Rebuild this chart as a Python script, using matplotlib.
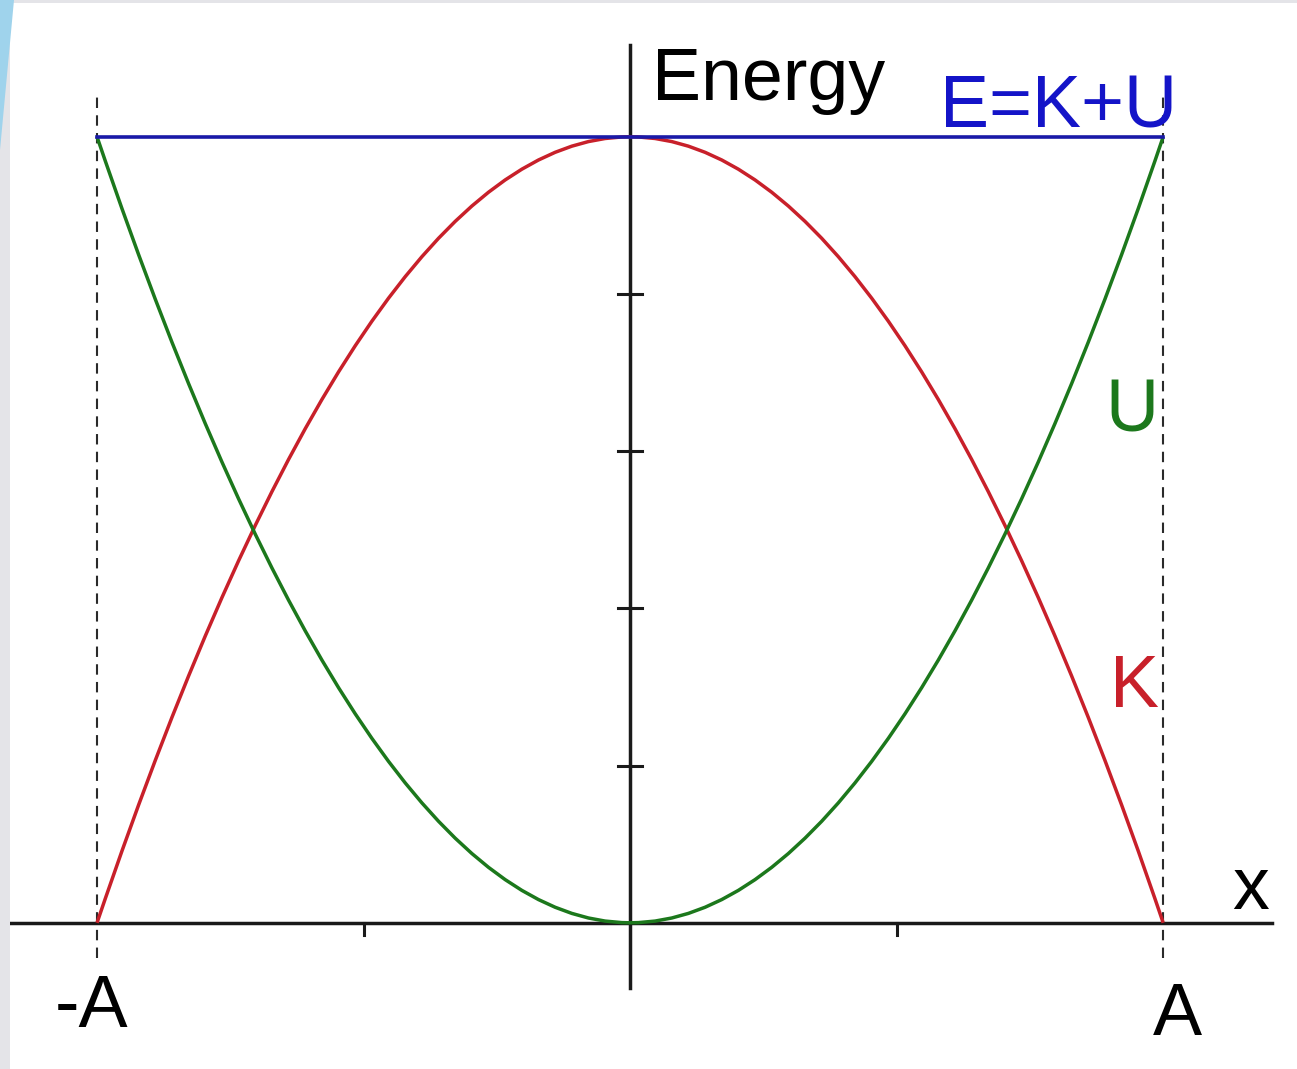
import matplotlib.pyplot as plt
from matplotlib.path import Path
from matplotlib.patches import PathPatch, Polygon, Rectangle

plt.rcParams['font.family'] = ['Liberation Sans', 'DejaVu Sans']

# positions in units of A, energies in units of E
x_pts = [-1.0, 0.0, 1.0]       # -A, 0, A
U_vals = [1.0, 0.0, 1.0]       # potential energy
K_vals = [0.0, 1.0, 0.0]       # kinetic energy
E_total = 1.0
y_ticks = [0.2, 0.4, 0.6, 0.8]
x_ticks = [-0.5, 0.5]
x_labels = ['-A', 'A']

RED = '#c8202a'
GREEN = '#1c781c'
BLUE = '#1a1aa8'
BLUE_TXT = '#1414c8'


def parabola(ax, xs, ys, color):
    # each half is a quadratic bezier: control point sits under/over the vertex
    verts = [(xs[0], ys[0]), ((xs[0] + xs[1]) / 2, ys[1]), (xs[1], ys[1]),
             ((xs[1] + xs[2]) / 2, ys[1]), (xs[2], ys[2])]
    codes = [Path.MOVETO, Path.CURVE3, Path.CURVE3, Path.CURVE3, Path.CURVE3]
    ax.add_patch(PathPatch(Path(verts, codes), fc='none', ec=color, lw=2.5,
                           zorder=3))


fig = plt.figure(figsize=(12.97, 10.69), dpi=100)
ax = fig.add_axes([0, 0, 1, 1])
ax.set_xlim(-1.182, 1.251)
ax.set_ylim(-0.186, 1.174)
ax.axis('off')

# slide decoration on the left edge
fig.patches.append(Rectangle((0, 0), 10 / 1297, 1, transform=fig.transFigure,
                             fc='#e4e4e8', ec='none'))
fig.patches.append(Rectangle((0, 1 - 3 / 1069), 1, 3 / 1069,
                             transform=fig.transFigure, fc='#e4e4e8', ec='none'))
fig.patches.append(Polygon([(0, 1), (14 / 1297, 1), (0, 1 - 150 / 1069)],
                           transform=fig.transFigure, fc='#9fd3ec', ec='none'))

# axes
ax.plot([-1.163, 1.205], [0, 0], color='#1a1a1a', lw=2.5, zorder=2)
ax.plot([0, 0], [-0.083, 1.117], color='#1a1a1a', lw=2.5, zorder=2)
for t in y_ticks:
    ax.plot([-0.022, 0.022], [t, t], color='#1a1a1a', lw=2.2)
for t in x_ticks:
    ax.plot([t, t], [0, -0.016], color='#1a1a1a', lw=2.2)

# turning points
for xv in (x_pts[0], x_pts[-1]):
    ax.plot([xv, xv], [-0.045, 1.053], color='#2a2a2a', lw=1.5,
            ls=(0, (5, 3.5)), zorder=1)

# energies
ax.plot([x_pts[0], x_pts[-1]], [E_total, E_total], color=BLUE, lw=2.6,
        zorder=4)
parabola(ax, x_pts, K_vals, RED)
parabola(ax, x_pts, U_vals, GREEN)

fs = 53
ax.text(0.041, 1.047, 'Energy', fontsize=fs, color='black', va='baseline')
ax.text(0.582, 1.0115, 'E=K+U', fontsize=fs, color=BLUE_TXT, va='baseline')
ax.text(0.891, 0.625, 'U', fontsize=fs, color=GREEN, va='baseline')
ax.text(0.901, 0.274, 'K', fontsize=fs, color=RED, va='baseline')
ax.text(1.13, 0.017, 'x', fontsize=fs, color='black', va='baseline')
ax.text(x_pts[0] - 0.08, -0.132, x_labels[0], fontsize=fs, va='baseline')
ax.text(x_pts[-1] - 0.02, -0.143, x_labels[1], fontsize=fs, va='baseline')

plt.savefig('out.png', dpi=100)
